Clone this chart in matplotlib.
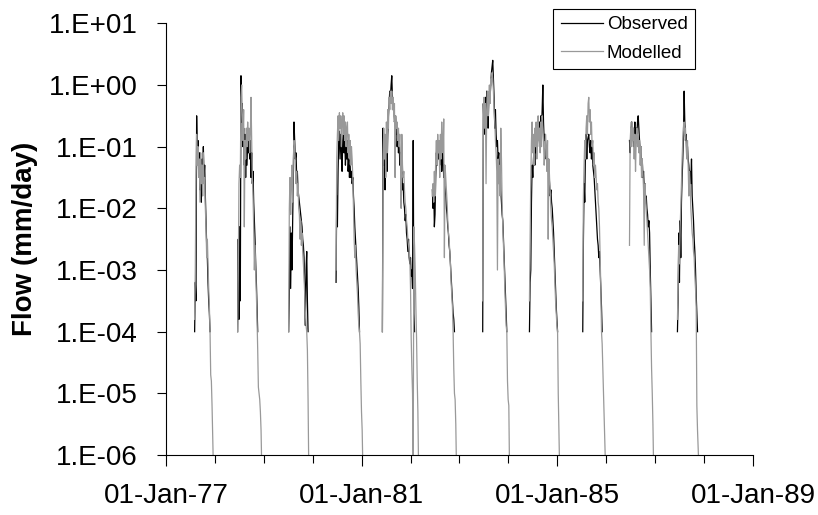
import numpy as np
import pandas as pd
import matplotlib
matplotlib.use("Agg")
import matplotlib.pyplot as plt
import matplotlib.dates as mdates
from matplotlib.ticker import FixedLocator, FuncFormatter, LogLocator, NullLocator

# flows as log10(mm/day), one value every 5 days from the season start
starts = ["1977-08-03", "1978-06-20", "1979-07-06", "1980-06-24", "1981-06-05", "1982-06-13",
          "1983-06-24", "1984-06-07", "1985-07-10", "1986-06-24", "1987-06-17"]

obs_1977 = [-4.0, -3.2, -3.5, -0.5, -1.2, -0.9, -1.4, -1.1, -1.7, -1.3, -1.9, -1.2, -1.6, -1.0, -1.5, -1.3,
            -1.8, -2.2, -2.6, -2.8, -3.2, -3.5, -3.7, -4.0]
mod_1977 = [-3.8, -3.0, -1.5, -0.8, -1.3, -1.0, -1.5, -1.2, -1.9, -1.1, -1.6, -1.3, -1.8, -1.1, -1.6, -1.5,
            -2.0, -2.3, -2.8, -2.5, -2.9, -3.3, -3.6, -4.0, -4.7, -4.8, -5.2, -5.7, -6.2]

obs_1978 = [-4.0, -2.5, -3.8, -2.3, -3.5, 0.15, -0.6, -0.3, -1.0, -0.7, -1.3, -0.8, -1.5, -0.9, -1.3, -0.9,
            -1.1, -0.8, -1.2, -0.9, -1.5, -1.1, -1.6, -1.4, -1.9, -2.2, -2.5, -2.9, -3.2, -3.6, -4.0]
mod_1978 = [-4.0, -3.0, -1.6, -1.3, -1.5, -0.2, 0.0, -0.5, -0.9, -0.4, -2.3, -0.9, -1.2, -0.7, -1.0, -0.6,
            -0.9, -0.7, -1.1, -0.8, -0.2, -0.9, -1.5, -1.8, -2.3, -3.0, -2.6, -3.0, -3.4, -3.8, -4.3, -4.9,
            -5.0, -5.1, -5.3, -5.6, -6.2]

obs_1979 = [-4.0, -3.4, -2.3, -3.3, -2.4, -3.0, -2.2, -1.5, -0.6, -0.9, -1.2, -1.1, -1.5, -1.4, -1.7, -1.8,
            -1.9, -2.0, -2.1, -2.2, -2.3, -2.5, -2.6, -2.8, -3.3, -3.9, -3.0, -2.7, -3.5, -4.0]
mod_1979 = [-4.0, -2.0, -1.5, -2.1, -1.6, -1.3, -1.9, -1.2, -0.9, -1.0, -1.3, -1.6, -1.4, -1.8, -1.6, -2.0,
            -2.1, -2.5, -2.2, -2.6, -2.4, -2.7, -2.9, -3.1, -3.4, -3.7, -3.9, -4.0, -4.3, -5.1, -6.2]

obs_1980 = [-3.2, -1.8, -2.3, -1.4, -0.9, -0.75, -1.2, -0.8, -1.0, -1.4, -0.9, -0.8, -1.1, -0.9, -1.3, -1.0,
            -1.2, -0.9, -1.4, -1.2, -1.5, -1.3, -1.5, -1.4, -1.6, -1.5, -1.8, -2.0, -2.3, -2.5, -2.7, -2.9,
            -3.1, -3.3, -3.6, -4.0]
mod_1980 = [-3.0, -1.2, -0.8, -0.5, -0.9, -0.45, -0.7, -0.5, -1.0, -0.6, -0.45, -0.8, -0.5, -0.9, -0.6, -1.0,
            -0.7, -0.6, -1.1, -0.8, -1.2, -0.9, -1.3, -1.0, -1.2, -1.5, -2.0, -2.5, -2.8, -2.6, -3.0, -3.2,
            -3.4, -3.7, -3.9, -4.0, -4.2, -4.8, -5.3, -5.6, -6.2]

obs_1981 = [-4.0, -0.7, -1.3, -1.0, -1.7, -1.2, -0.9, -1.4, -0.8, -0.5, -0.3, -0.1, -0.2, 0.0, 0.15, -0.2,
            -0.4, -0.3, -0.6, -0.5, -0.8, -0.6, -1.0, -0.8, -1.1, -0.9, -1.3, -1.1, -1.5, -1.4, -1.7, -1.6,
            -1.9, -2.0, -2.2, -2.1, -2.4, -2.5, -2.7, -2.5, -2.8, -2.9, -2.8, -3.1, -3.0, -3.3, -0.9, -3.7,
            -4.0]
mod_1981 = [-4.0, -1.5, -0.7, -1.2, -0.8, -1.5, -0.6, -1.1, -0.4, -0.7, -0.2, -0.4, -0.1, -0.3, -0.1, -0.4,
            -0.2, -0.5, -0.3, -1.5, -0.5, -0.7, -0.6, -0.9, -0.7, -1.0, -0.8, -1.2, -2.0, -0.8, -1.3, -1.5,
            -1.4, -1.7, -1.9, -2.0, -2.2, -2.3, -2.5, -2.6, -2.7, -2.8, -3.3, -4.1, -4.6, -5.0, -6.2, -2.3,
            -2.6, -3.0, -3.6, -4.1, -4.8, -5.3, -6.2]

obs_1982 = [-1.7, -2.0, -1.6, -2.3, -2.1, -1.5, -1.1, -1.3, -0.9, -1.2, -1.0, -1.3, -0.9, -1.1, -1.4, -1.0,
            -1.2, -1.5, -1.3, -1.6, -1.8, -2.0, -2.1, -2.3, -2.4, -2.6, -2.7, -2.9, -3.1, -3.3, -3.5, -3.7,
            -3.8, -4.0]
mod_1982 = [-1.8, -1.6, -1.9, -1.4, -1.8, -1.2, -0.9, -1.3, -0.8, -1.1, -0.9, -1.5, -0.8, -1.2, -0.6, -1.0,
            -1.1, -0.55, -2.8, -1.3, -1.5, -1.7, -1.9, -2.2, -2.4, -2.5, -2.7, -2.9, -3.2, -3.4, -3.6, -4.0,
            -4.6, -5.0, -5.1, -5.5, -6.2]

obs_1983 = [-4.0, -0.3, -0.8, -0.5, -0.2, -0.6, -0.1, -0.4, -0.7, -0.3, -0.1, -0.2, 0.0, 0.2, 0.3, 0.4,
            0.1, -0.2, -0.7, -0.4, -0.8, -1.0, -0.9, -1.2, -1.1, -1.4, -1.3, -1.7, -1.9, -2.1, -2.2, -2.5,
            -2.8, -3.1, -3.4, -3.7, -4.0]
mod_1983 = [-3.5, -0.6, -0.2, -0.7, -0.3, -1.6, -0.4, -0.1, -0.5, -0.2, 0.0, -0.3, 0.1, 0.0, 0.2, 0.1,
            -0.1, -0.4, -0.6, -0.9, -1.1, -1.4, -3.0, -1.2, -1.6, -1.3, -1.8, -0.7, -1.2, -1.9, -2.3, -2.6,
            -2.9, -3.3, -3.6, -3.9, -4.0, -4.8, -5.1, -5.2, -6.2]

obs_1984 = [-4.0, -3.2, -3.0, -1.9, -1.3, -1.5, -1.2, -1.0, -1.3, -0.9, -1.1, -0.8, -1.0, -0.7, -0.9, -0.6,
            -0.8, -0.5, -0.7, -0.4, 0.0, -0.6, -0.9, -0.8, -1.0, -1.2, -1.1, -1.3, -1.2, -1.4, -1.6, -1.8,
            -1.7, -1.9, -2.0, -2.2, -2.4, -2.7, -3.0, -3.3, -3.6, -3.8, -4.0]
mod_1984 = [-3.5, -2.5, -1.5, -0.9, -0.6, -1.1, -0.8, -1.3, -0.7, -1.0, -0.6, -1.2, -0.8, -0.5, -0.9, -0.7,
            -1.1, -0.6, -1.0, -0.5, -0.7, -0.9, -1.3, -1.1, -0.8, -1.0, -1.4, -0.9, -2.5, -1.2, -1.5, -1.7,
            -2.0, -2.2, -2.3, -2.5, -2.7, -2.9, -3.2, -3.5, -3.7, -3.9, -4.0, -5.0, -5.6, -6.2]

obs_1985 = [-4.0, -2.5, -1.6, -1.9, -1.1, -0.8, -1.2, -0.9, -0.85, -0.8, -1.0, -1.1, -0.9, -1.2, -1.0, -1.3,
            -1.4, -1.5, -1.7, -1.9, -2.1, -2.3, -2.5, -2.6, -2.8, -2.7, -3.0, -3.3, -3.6, -4.0]
mod_1985 = [-3.5, -1.8, -1.3, -0.9, -1.2, -0.7, -0.5, -0.8, -0.3, -0.2, -0.6, -0.4, -0.8, -0.6, -1.0, -0.9,
            -1.3, -1.1, -1.5, -1.3, -1.5, -1.7, -1.6, -1.9, -2.0, -2.3, -2.8, -3.3, -4.0, -4.2, -4.6, -5.0,
            -5.4, -5.8, -6.2]

obs_1986 = [-0.9, -1.1, -0.8, -0.6, -0.9, -0.7, -1.0, -0.8, -0.6, -0.9, -0.7, -0.8, -0.6, -0.5, -0.7, -0.9,
            -1.1, -1.0, -1.3, -1.2, -1.5, -1.4, -1.7, -1.6, -1.9, -1.8, -2.0, -2.1, -2.3, -2.2, -2.4, -3.0,
            -3.5, -4.0]
mod_1986 = [-2.6, -0.9, -0.7, -1.0, -0.6, -0.9, -0.7, -1.2, -0.8, -1.4, -0.9, -0.7, -1.0, -0.8, -1.1, -0.9,
            -1.3, -1.0, -1.5, -1.2, -1.4, -1.7, -2.6, -1.6, -1.8, -2.0, -2.2, -2.4, -2.6, -2.8, -3.0, -3.3,
            -4.0, -4.6, -5.0, -5.5, -6.2]

obs_1987 = [-4.0, -3.5, -2.4, -3.2, -2.2, -2.8, -1.9, -1.5, -1.2, -0.8, -0.1, -0.6, -0.9, -0.8, -1.1, -1.0,
            -1.2, -1.3, -1.5, -1.4, -1.6, -1.2, -1.8, -2.0, -2.2, -2.5, -2.7, -3.0, -3.4, -3.7, -4.0]
mod_1987 = [-3.8, -3.3, -2.6, -2.9, -2.3, -2.0, -1.6, -1.2, -0.9, -0.7, -0.6, -0.8, -0.7, -1.0, -1.2, -0.9,
            -1.3, -1.8, -1.4, -1.6, -2.0, -2.2, -2.4, -2.5, -2.7, -2.8, -3.1, -3.3, -3.6, -5.2, -5.6, -5.9,
            -6.2]

observed = [obs_1977, obs_1978, obs_1979, obs_1980, obs_1981, obs_1982,
            obs_1983, obs_1984, obs_1985, obs_1986, obs_1987]
modelled = [mod_1977, mod_1978, mod_1979, mod_1980, mod_1981, mod_1982,
            mod_1983, mod_1984, mod_1985, mod_1986, mod_1987]

xtick_dates = ["1977-01-01", "1981-01-01", "1985-01-01", "1989-01-01"]

plt.rcParams['font.family'] = ['Liberation Sans', 'DejaVu Sans']

fig = plt.figure(figsize=(8.18, 5.15), dpi=100)
ax = fig.add_axes([0.2029, 0.1165, 0.7176, 0.8382])

# observed first, modelled drawn over it (like the original)
for i in range(len(starts)):
    t = pd.date_range(starts[i], periods=len(observed[i]), freq="5D")
    ax.plot(t.to_pydatetime(), 10.0 ** np.array(observed[i]), color="black", lw=0.9,
            label="Observed" if i == 0 else None)
for i in range(len(starts)):
    t = pd.date_range(starts[i], periods=len(modelled[i]), freq="5D")
    ax.plot(t.to_pydatetime(), 10.0 ** np.array(modelled[i]), color="#999999", lw=0.9,
            label="Modelled" if i == 0 else None)

ax.set_yscale("log")
ax.set_ylim(1e-6, 10)
ax.yaxis.set_major_locator(LogLocator(base=10, numticks=10))
ax.yaxis.set_minor_locator(NullLocator())
ax.yaxis.set_major_formatter(FuncFormatter(lambda v, p: "1.E%+03d" % int(round(np.log10(v)))))

ax.set_xlim(pd.Timestamp("1977-01-01"), pd.Timestamp("1989-01-01"))
ax.xaxis.set_major_locator(FixedLocator(mdates.date2num(pd.to_datetime(xtick_dates).to_pydatetime())))
ax.xaxis.set_major_formatter(mdates.DateFormatter("%d-%b-%y"))
ax.xaxis.set_minor_locator(mdates.YearLocator(1))

ax.tick_params(axis="both", which="major", direction="out", width=0.8, labelsize=20)
ax.tick_params(axis="x", which="major", length=8, pad=12)
ax.tick_params(axis="x", which="minor", direction="out", length=5.5, width=0.8)
ax.tick_params(axis="y", which="major", length=6.5, pad=14)

for s in ["top", "right"]:
    ax.spines[s].set_visible(False)
for s in ["left", "bottom"]:
    ax.spines[s].set_linewidth(0.8)

ax.set_ylabel("Flow (mm/day)", fontsize=20, fontweight="bold")
ax.yaxis.set_label_coords(-0.218, 0.5)

leg = fig.legend(loc="upper right", bbox_to_anchor=(0.850, 0.983), fontsize=13.5, frameon=True,
                 fancybox=False, edgecolor="black", framealpha=1, handlelength=2.25,
                 handletextpad=0.2, borderpad=0.4, labelspacing=0.6, borderaxespad=0)
leg.get_frame().set_linewidth(0.8)

fig.savefig("out.png", dpi=100)
